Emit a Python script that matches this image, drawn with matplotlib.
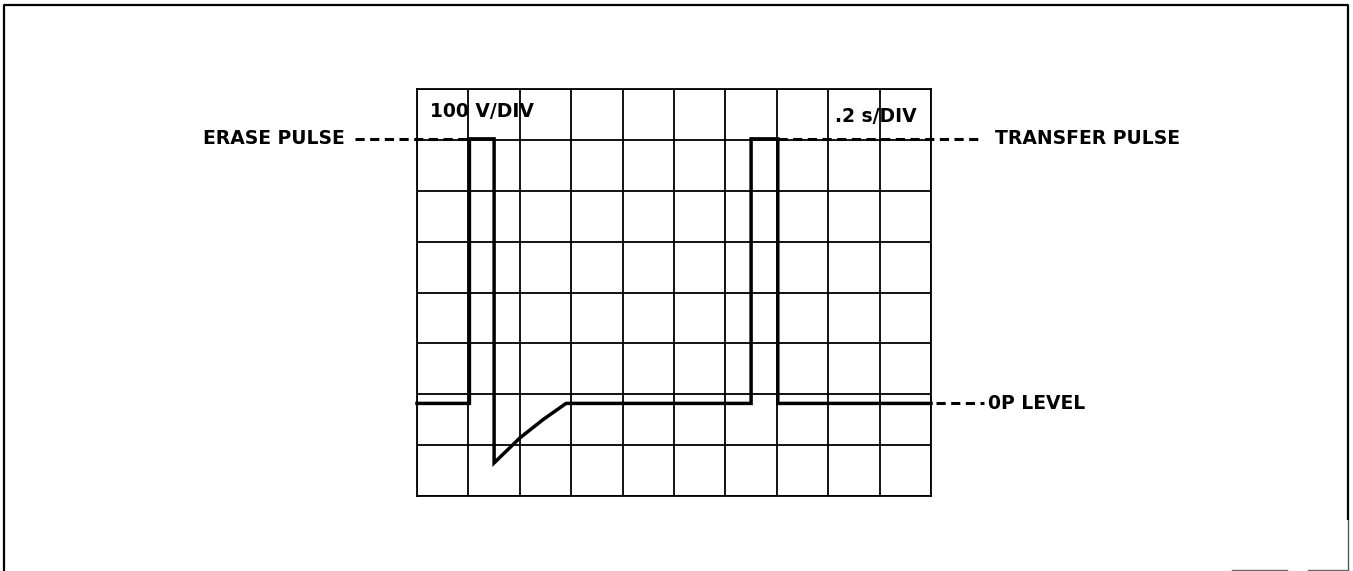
import numpy as np
import matplotlib.pyplot as plt
import matplotlib as mpl

mpl.rcParams['font.family'] = 'DejaVu Sans'

# Scope screen: 10 horizontal by 8 vertical divisions
n_xdiv = 10
n_ydiv = 8

# Trace, in divisions (time across, volts up)
trace_t = [0.0, 1.02, 1.02, 1.5, 1.5, 2.0, 2.45, 2.9, 6.5, 6.5, 7.02, 7.02, 10.0]
trace_v = [1.82, 1.82, 7.02, 7.02, 0.65, 1.14, 1.50, 1.82, 1.82, 7.02, 7.02, 1.82, 1.82]

pulse_level = 7.02
zero_level = 1.82

# Leader lines out to the labels
erase_lead = [-1.21, 1.02]
transfer_lead = [7.02, 10.95]
zero_lead = [10.1, 11.03]

scale_labels = ['100 V/DIV', '.2 s/DIV']
side_labels = ['ERASE PULSE', 'TRANSFER PULSE', '0P LEVEL']

W, H = 1353, 571
fig = plt.figure(figsize=(W / 100, H / 100), dpi=100)

# Outer frame in pixel units
ax_frame = fig.add_axes([0, 0, 1, 1])
ax_frame.set_xlim(0, W)
ax_frame.set_ylim(H, 0)
ax_frame.axis('off')
ax_frame.plot([3.5, 3.5, 1348, 1348], [H, 5, 5, 520], color='black', lw=1.6,
              solid_capstyle='butt')
ax_frame.plot([1348, 1348], [520, 570], color='#555555', lw=1.0)
ax_frame.plot([1232, 1287], [570, 570], color='#666666', lw=1.0)
ax_frame.plot([1308, 1348], [570, 570], color='#666666', lw=1.0)

# Graticule
x0, x1 = 417, 931
y0, y1 = 89, 496
ax = fig.add_axes([x0 / W, 1 - y1 / H, (x1 - x0) / W, (y1 - y0) / H])
ax.set_xlim(0, n_xdiv)
ax.set_ylim(0, n_ydiv)
ax.set_xticks(np.arange(n_xdiv + 1))
ax.set_yticks(np.arange(n_ydiv + 1))
ax.tick_params(length=0, labelbottom=False, labelleft=False)
ax.grid(True, color='black', lw=1.3)
for sp in ax.spines.values():
    sp.set_linewidth(1.3)
ax.set_facecolor('none')

# The trace itself
ax.plot(trace_t, trace_v, color='black', lw=2.5, solid_joinstyle='miter',
        clip_on=False, zorder=5)

# Dashed leaders
dash = dict(color='black', lw=2.2, linestyle=(0, (3.0, 1.8)), clip_on=False, zorder=4)
ax.plot(erase_lead, [pulse_level, pulse_level], **dash)
ax.plot(transfer_lead, [pulse_level, pulse_level], **dash)
ax.plot(zero_lead, [zero_level, zero_level], **dash)

txt = dict(fontsize=13.5, fontweight='bold', va='center', clip_on=False)
ax.text(0.25, 7.55, scale_labels[0], ha='left', **txt)
ax.text(9.73, 7.45, scale_labels[1], ha='right', **txt)
ax.text(-1.40, pulse_level, side_labels[0], ha='right', **txt)
ax.text(11.25, pulse_level, side_labels[1], ha='left', **txt)
ax.text(11.11, zero_level, side_labels[2], ha='left', **txt)

fig.savefig('out.png', dpi=100)
